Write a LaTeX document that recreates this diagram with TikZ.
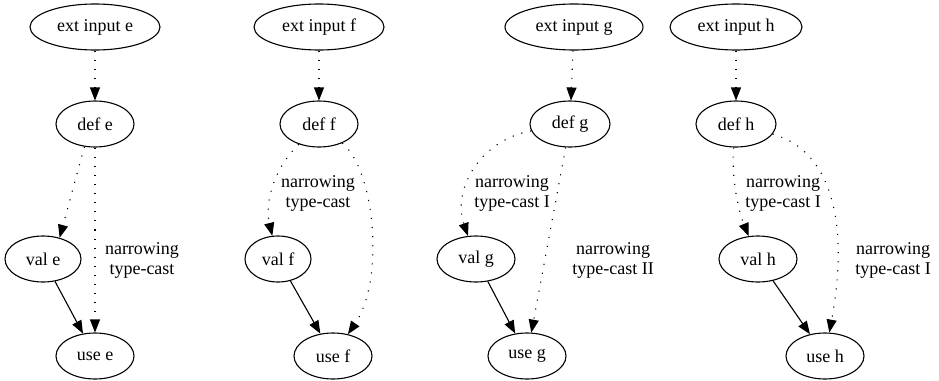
\documentclass[tikz,border=0pt]{standalone}
\usepackage{fontspec}
\setmainfont{Liberation Serif}
\usetikzlibrary{shapes.geometric,arrows.meta}

\begin{document}
\begin{tikzpicture}[x=1pt,y=-1pt,line width=1.1pt,font=\fontsize{18}{20}\selectfont]
\tikzset{vertex/.style={ %
		draw,
		ellipse,
		inner sep=0pt,
		minimum width=#1,
		minimum height=46pt %
	},
	vertex/.default=78pt,
	flow/.style={-{Triangle[length=13pt,width=10pt]}},
	dep/.style={flow,dash pattern=on 1.1pt off 8pt},
	note/.style={align=center}
}
\useasboundingbox (0,0) rectangle (939,380);
\node[vertex=130pt] (exte) at (95,27) {ext input e};
\node[vertex] (defe) at (95,124) {def e};
\node[vertex=76pt] (vale) at (43,259) {val e};
\node[vertex] (usee) at (95,356) {use e};
\node[note] (ne) at (142,260) {narrowing\\type-cast};
\draw[dep] (exte) -- (defe);
\draw[dep] (defe.245) -- (vale.52);
\draw[dep] (defe) -- (usee);
\draw[flow] (vale) -- (usee);

\node[vertex=130pt] (extf) at (319,27) {ext input f};
\node[vertex] (deff) at (319,124) {def f};
\node[vertex=66pt] (valf) at (278,259) {val f};
\node[vertex] (usef) at (333,356) {use f};
\node[note] (nf) at (318,193) {narrowing\\type-cast};
\draw[dep] (extf) -- (deff);
\draw[dep] (deff) .. controls (268,175) and (266,210) .. (valf);
\draw[dep] (deff) .. controls (375,170) and (385,280) .. (usef);
\draw[flow] (valf) -- (usef);

\node[vertex=138pt] (extg) at (574,27) {ext input g};
\node[vertex=80pt] (defg) at (570,124) {def g};
\node[vertex] (valg) at (476,259) {val g};
\node[vertex] (useg) at (527,356) {use g};
\node[note] (ng1) at (512,193) {narrowing\\type-cast I};
\node[note] (ng2) at (613,260) {narrowing\\type-cast II};
\draw[dep] (extg) -- (defg);
\draw[dep] (defg) .. controls (480,140) and (452,190) .. (valg);
\draw[dep] (defg) -- (useg);
\draw[flow] (valg) -- (useg);

\node[vertex=132pt] (exth) at (736,27) {ext input h};
\node[vertex=80pt] (defh) at (736,124) {def h};
\node[vertex] (valh) at (758,259) {val h};
\node[vertex] (useh) at (825,356) {use h};
\node[note] (nh1) at (783,193) {narrowing\\type-cast I};
\node[note] (nh2) at (893,260) {narrowing\\type-cast I};
\draw[dep] (exth) -- (defh);
\draw[dep] (defh) .. controls (731,175) and (738,210) .. (valh);
\draw[dep] (defh) .. controls (830,150) and (850,220) .. (useh);
\draw[flow] (valh) -- (useh);
\end{tikzpicture}
\end{document}
